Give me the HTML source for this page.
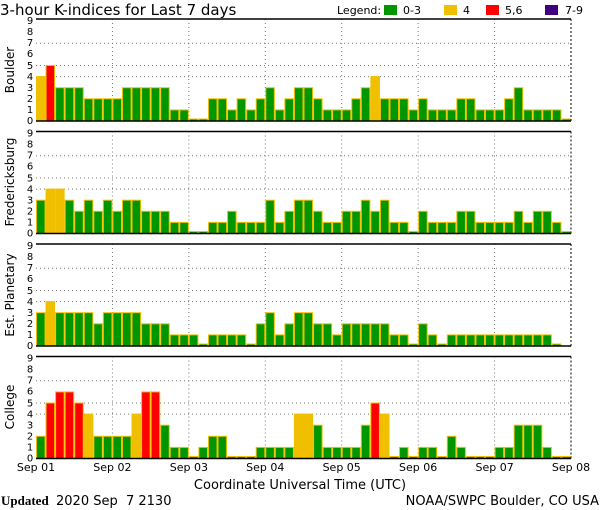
<!DOCTYPE html>
<html><head><meta charset="utf-8"><style>
html,body{margin:0;padding:0;background:#fff;}
svg{display:block;font-family:"DejaVu Sans","Liberation Sans",sans-serif;}
</style></head><body>
<svg id="s" width="600" height="510" viewBox="0 0 600 510" xmlns="http://www.w3.org/2000/svg">
<rect width="600" height="510" fill="#fff"/>
<g id="g"></g>
<text x="0" y="15" font-size="15" fill="#000">3-hour K-indices for Last 7 days</text>
<text x="337" y="14" font-size="11" fill="#000">Legend:</text>
<rect x="384" y="5" width="13" height="10" fill="#009600"/><text x="403" y="14" font-size="11">0-3</text>
<rect x="444" y="5" width="13" height="10" fill="#f0c000"/><text x="463" y="14" font-size="11">4</text>
<rect x="486" y="5" width="13" height="10" fill="#ff0000"/><text x="505" y="14" font-size="11">5,6</text>
<rect x="545" y="5" width="13" height="10" fill="#400080"/><text x="565" y="14" font-size="11">7-9</text>
<g font-size="12" text-anchor="middle">
<text transform="translate(14,70) rotate(-90)">Boulder</text>
<text transform="translate(14,182) rotate(-90)">Fredericksburg</text>
<text transform="translate(14,295) rotate(-90)">Est. Planetary</text>
<text transform="translate(14,407) rotate(-90)">College</text>
</g>
<g font-size="10" text-anchor="middle">
<g id="yl0"><text x="30" y="124">0</text><text x="30" y="113">1</text><text x="30" y="102">2</text><text x="30" y="91">3</text><text x="30" y="80">4</text><text x="30" y="69">5</text><text x="30" y="57">6</text><text x="30" y="46">7</text><text x="30" y="35">8</text><text x="30" y="24">9</text></g>
<g transform="translate(0,112.5)"><text x="30" y="124">0</text><text x="30" y="113">1</text><text x="30" y="102">2</text><text x="30" y="91">3</text><text x="30" y="80">4</text><text x="30" y="69">5</text><text x="30" y="57">6</text><text x="30" y="46">7</text><text x="30" y="35">8</text><text x="30" y="24">9</text></g>
<g transform="translate(0,225)"><text x="30" y="124">0</text><text x="30" y="113">1</text><text x="30" y="102">2</text><text x="30" y="91">3</text><text x="30" y="80">4</text><text x="30" y="69">5</text><text x="30" y="57">6</text><text x="30" y="46">7</text><text x="30" y="35">8</text><text x="30" y="24">9</text></g>
<g transform="translate(0,337.5)"><text x="30" y="124">0</text><text x="30" y="113">1</text><text x="30" y="102">2</text><text x="30" y="91">3</text><text x="30" y="80">4</text><text x="30" y="69">5</text><text x="30" y="57">6</text><text x="30" y="46">7</text><text x="30" y="35">8</text><text x="30" y="24">9</text></g>
</g>
<g font-size="11" text-anchor="middle">
<text x="36" y="471">Sep 01</text><text x="112.4" y="471">Sep 02</text><text x="188.9" y="471">Sep 03</text><text x="265.3" y="471">Sep 04</text><text x="341.7" y="471">Sep 05</text><text x="418.1" y="471">Sep 06</text><text x="494.6" y="471">Sep 07</text><text x="571" y="471">Sep 08</text>
<text x="300" y="489" font-size="13">Coordinate Universal Time (UTC)</text>
</g>
<text x="1" y="505" font-size="13" font-weight="bold" font-family="'Liberation Serif',serif">Updated</text>
<text x="56" y="505" font-size="13">2020 Sep &#160;7 2130</text>
<text x="599" y="505" font-size="13" text-anchor="end">NOAA/SWPC Boulder, CO USA</text>
</svg>
<script>
var D=[
[4,5,3,3,3,2,2,2,2,3,3,3,3,3,1,1,0,0,2,2,1,2,1,2,3,1,2,3,3,2,1,1,1,2,3,4,2,2,2,1,2,1,1,1,2,2,1,1,1,2,3,1,1,1,1,0],
[3,4,4,3,2,3,2,3,2,3,3,2,2,2,1,1,0,0,1,1,2,1,1,1,3,1,2,3,3,2,1,1,2,2,3,2,3,1,1,0,2,1,1,1,2,2,1,1,1,1,2,1,2,2,1,0],
[3,4,3,3,3,3,2,3,3,3,3,2,2,2,1,1,1,0,1,1,1,1,0,2,3,1,2,3,3,2,2,1,2,2,2,2,2,1,1,0,2,1,0,1,1,1,1,1,1,1,1,1,1,1,0,-1],
[2,5,6,6,5,4,2,2,2,2,4,6,6,3,1,1,0,1,2,2,0,0,0,1,1,1,1,4,4,3,1,1,1,1,3,5,4,0,1,0,1,1,0,2,1,0,0,0,1,1,3,3,3,1,0,0]];
var L=36,R=571,W=(R-L)/56,U=11.1,h='';
for(var p=0;p<4;p++){
 var T=19+p*112.5,B=T+102;
 [4,5,7].forEach(function(v){var y=B-v*U;h+='<line x1="'+L+'" x2="'+R+'" y1="'+y+'" y2="'+y+'" stroke="#777" stroke-dasharray="1,3"/>';});
 for(var d=1;d<7;d++){var x=L+d*8*W;h+='<line x1="'+x+'" x2="'+x+'" y1="'+T+'" y2="'+B+'" stroke="#777" stroke-dasharray="1,3"/>';}
 D[p].forEach(function(v,i){if(v<0)return;var x=L+i*W,hh=v==0?2:v*U;
  var c=v<=3?'#009600':v==4?'#f0c000':v<=6?'#ff0000':'#400080';
  h+='<rect x="'+(x+0.5)+'" y="'+(B-hh)+'" width="'+(W-1)+'" height="'+hh+'" fill="'+c+'" stroke="#f0c000" stroke-width="1"/>';});
 h+='<line x1="'+L+'" x2="'+R+'" y1="'+T+'" y2="'+T+'" stroke="#000" stroke-width="1.5"/>';
 h+='<line x1="'+L+'" x2="'+R+'" y1="'+B+'" y2="'+B+'" stroke="#000" stroke-width="1.5"/>';
 h+='<line x1="'+R+'" x2="'+R+'" y1="'+T+'" y2="'+B+'" stroke="#000" stroke-dasharray="2,2"/>';
}
document.getElementById('g').innerHTML=h;
</script>
</body></html>
